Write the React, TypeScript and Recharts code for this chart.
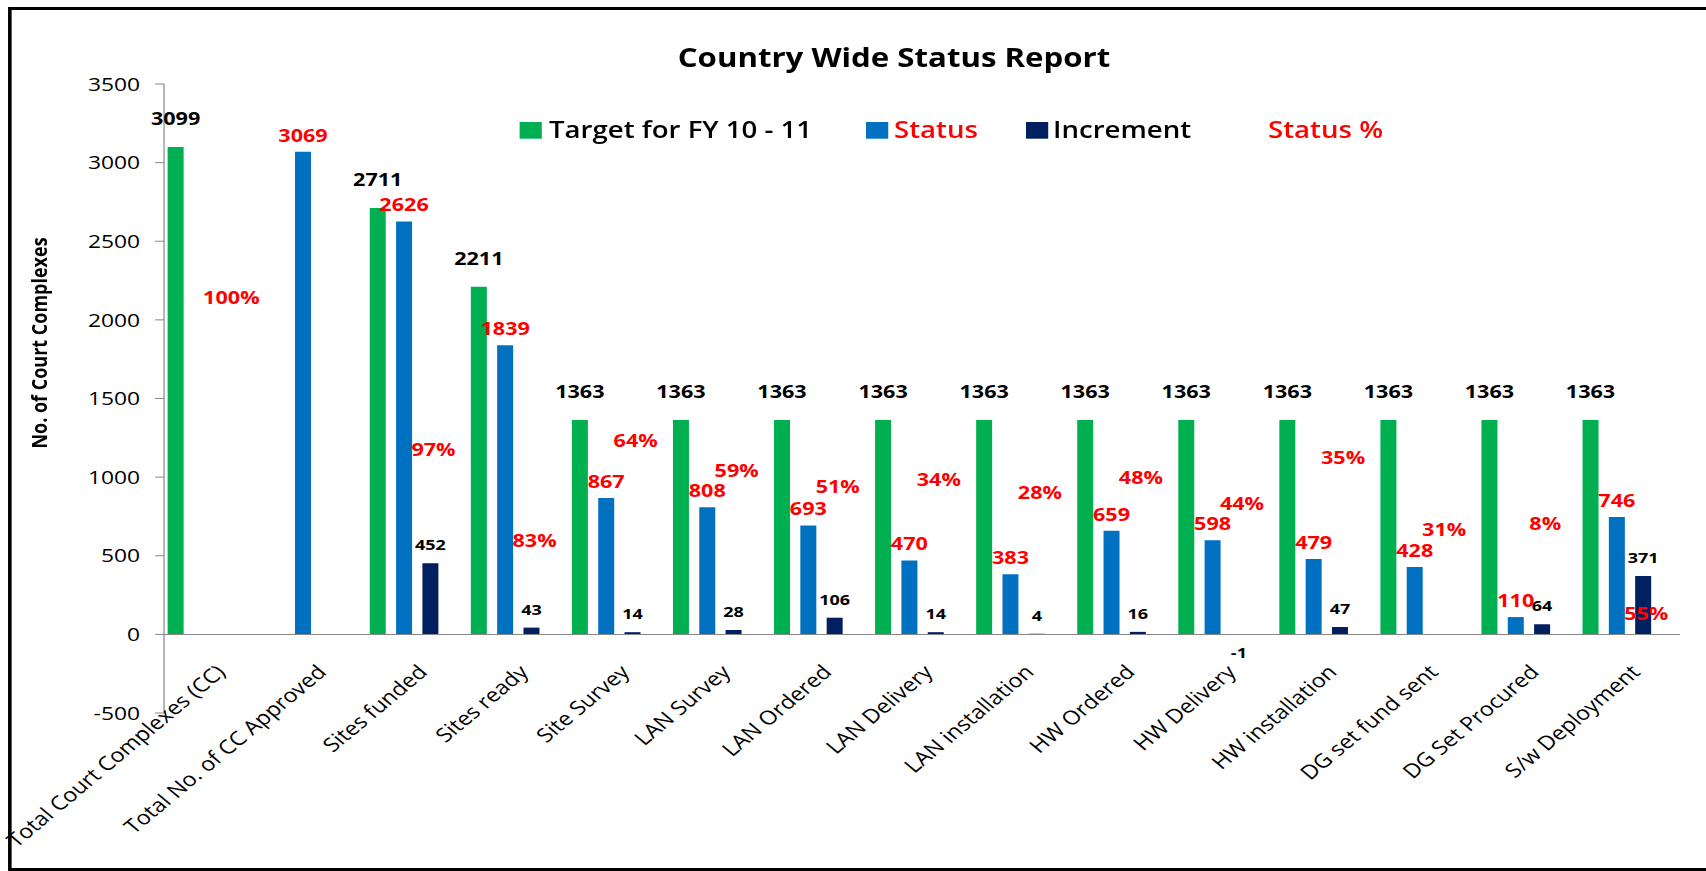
import React from 'react';
import { ComposedChart, Bar, Line, XAxis, YAxis, ReferenceLine, LabelList } from 'recharts';

const categories = [
  'Total Court Complexes (CC)',
  'Total No. of CC Approved',
  'Sites funded',
  'Sites ready',
  'Site Survey',
  'LAN Survey',
  'LAN Ordered',
  'LAN Delivery',
  'LAN installation',
  'HW Ordered',
  'HW Delivery',
  'HW installation',
  'DG set fund sent',
  'DG Set Procured',
  'S/w Deployment',
];
const targetValues = [3099, null, 2711, 2211, 1363, 1363, 1363, 1363, 1363, 1363, 1363, 1363, 1363, 1363, 1363];
const statusValues = [null, 3069, 2626, 1839, 867, 808, 693, 470, 383, 659, 598, 479, 428, 110, 746];
const incrementValues = [null, null, 452, 43, 14, 28, 106, 14, 4, 16, -1, 47, 0, 64, 371];
const statusPctValues = [1.0, null, 0.97, 0.83, 0.64, 0.59, 0.51, 0.34, 0.28, 0.48, 0.44, 0.35, 0.31, 0.08, 0.55];
// height (in chart units) at which each "Status %" label sits
const statusPctLabelLevel = [2140, null, 1175, 595, 1234, 1043, 941, 986, 903, 999, 833, 1126, 665, 703, 134];
const yTicks = [-500, 0, 500, 1000, 1500, 2000, 2500, 3000, 3500];
const seriesNames = ['Target for FY 10 - 11', 'Status', 'Increment', 'Status %'];
const chartTitle = 'Country Wide Status Report';
const yAxisTitle = 'No. of Court Complexes';

const data = categories.map((c, i) => ({
  category: c,
  target: targetValues[i],
  status: statusValues[i],
  increment: incrementValues[i],
  pct: statusPctValues[i],
  pctLevel: statusPctLabelLevel[i],
}));

const FONT = "'Open Sans', sans-serif";
const W = 1422;
const H = 871;
const SX = 1.2;
const M = { top: 84, right: 22, bottom: 8, left: 56.7 };
const X_AXIS_H = 150;
const Y_MIN = -500;
const Y_MAX = 3500;
const PLOT_H = H - M.top - M.bottom - X_AXIS_H;
const ZERO_Y = M.top + (PLOT_H * (Y_MAX - 0)) / (Y_MAX - Y_MIN);

const GREEN = '#00B050';
const BLUE = '#0070C0';
const NAVY = '#002060';
const RED = '#FF0000';
const GRAY = '#868686';

function barLabel(color: string, size: number, offset: number) {
  return (p: any) => {
    const v = p.value;
    if (v === null || v === undefined || v === '') return null;
    const vb = p.viewBox ?? p;
    const x = Number(vb.x);
    const y = Number(vb.y);
    const w = Number(vb.width ?? 0);
    const h = Number(vb.height ?? 0);
    if (isNaN(x) || isNaN(y)) return null;
    const cx = x + w / 2;
    const top = Math.min(y, y + h);
    const bottom = Math.max(y, y + h);
    const neg = Number(v) < 0;
    const ty = neg ? bottom + offset + size * 0.72 : top - offset;
    return (
      <text x={cx} y={ty} textAnchor="middle" fill={color} fontSize={size} fontWeight="bold" fontFamily={FONT}>
        {v}
      </text>
    );
  };
}

const pctLabel = (p: any) => {
  const v = p.value;
  if (v === null || v === undefined) return null;
  const vb = p.viewBox ?? p;
  const x = Number(vb.x ?? p.x);
  const y = Number(vb.y ?? p.y);
  if (isNaN(x) || isNaN(y) || vb.y === null) return null;
  const size = 18;
  return (
    <text x={x + 14} y={y + size * 0.357} textAnchor="middle" fill={RED} fontSize={size} fontWeight="bold" fontFamily={FONT}>
      {`${Math.round(Number(v) * 100)}%`}
    </text>
  );
};

const XTick = (props: any) => {
  const { x, payload } = props;
  const ax = x + 10;
  const ay = ZERO_Y + 39;
  return (
    <text
      x={ax}
      y={ay}
      transform={`rotate(-45 ${ax} ${ay})`}
      textAnchor="end"
      fontSize={19.5}
      fill="#000"
      fontFamily={FONT}
    >
      {payload.value}
    </text>
  );
};

export default function App() {
  const legendItems = [
    { sq: GREEN, sqX: 433, textX: 457.5, color: '#000', name: seriesNames[0] },
    { sq: BLUE, sqX: 721.7, textX: 745, color: RED, name: seriesNames[1] },
    { sq: NAVY, sqX: 855, textX: 877.5, color: '#000', name: seriesNames[2] },
    { sq: null, sqX: 0, textX: 1056.7, color: RED, name: seriesNames[3] },
  ];
  return (
    <div
      style={{
        position: 'absolute',
        left: 0,
        top: 0,
        width: W,
        height: H,
        transform: `scaleX(${SX})`,
        transformOrigin: '0 0',
        background: '#fff',
        fontFamily: FONT,
      }}
    >
      <ComposedChart
        width={W}
        height={H}
        data={data}
        margin={M}
        barSize={13.33}
        barGap={8.6}
      >
        <XAxis
          dataKey="category"
          axisLine={false}
          tickLine={false}
          height={X_AXIS_H}
          interval={0}
          tick={<XTick />}
        />
        <YAxis
          domain={[Y_MIN, Y_MAX]}
          ticks={yTicks}
          interval={0}
          width={80}
          tickSize={7.5}
          tickMargin={12.5}
          axisLine={{ stroke: GRAY, strokeWidth: 1 }}
          tickLine={{ stroke: GRAY, strokeWidth: 1 }}
          tick={{ fontSize: 19, fill: '#000', fontFamily: FONT }}
          allowDataOverflow
        />
        <ReferenceLine y={0} stroke={GRAY} strokeWidth={1} />
        <Bar dataKey="target" name={seriesNames[0]} fill={GREEN} isAnimationActive={false}>
          <LabelList dataKey="target" content={barLabel('#000', 18, 22)} />
        </Bar>
        <Bar dataKey="status" name={seriesNames[1]} fill={BLUE} isAnimationActive={false}>
          <LabelList dataKey="status" content={barLabel(RED, 18, 10)} />
        </Bar>
        <Bar dataKey="increment" name={seriesNames[2]} fill={NAVY} isAnimationActive={false}>
          <LabelList dataKey="increment" content={barLabel('#000', 15, 13)} />
        </Bar>
        <Bar dataKey="pct" name={seriesNames[3]} fill="none" isAnimationActive={false} />
        <Line
          dataKey="pctLevel"
          stroke="none"
          dot={false}
          activeDot={false}
          isAnimationActive={false}
          connectNulls={false}
        >
          <LabelList dataKey="pct" content={pctLabel} />
        </Line>
      </ComposedChart>
      <svg
        width={W}
        height={H}
        style={{ position: 'absolute', left: 0, top: 0, pointerEvents: 'none', overflow: 'visible' }}
      >
        <rect x={8.2} y={8.5} width={1600} height={861} fill="none" stroke="#000" strokeWidth={3} />
        <text x={745} y={58 + 26 * 0.357} textAnchor="middle" fontSize={26} fontWeight="bold" fill="#000" fontFamily={FONT}>
          {chartTitle}
        </text>
        {legendItems.map((it) => (
          <g key={it.name}>
            {it.sq && <rect x={it.sqX} y={122} width={18.5} height={16.7} fill={it.sq} />}
            <text x={it.textX} y={130 + 23 * 0.357} fontSize={23} fontWeight={600} fill={it.color} fontFamily={FONT}>
              {it.name}
            </text>
          </g>
        ))}
        <text
          x={32.5}
          y={343}
          transform="rotate(-90 32.5 343)"
          textAnchor="middle"
          dominantBaseline="central"
          fontSize={18}
          fontWeight="bold"
          fill="#000"
          fontFamily={FONT}
        >
          {yAxisTitle}
        </text>
      </svg>
    </div>
  );
}
